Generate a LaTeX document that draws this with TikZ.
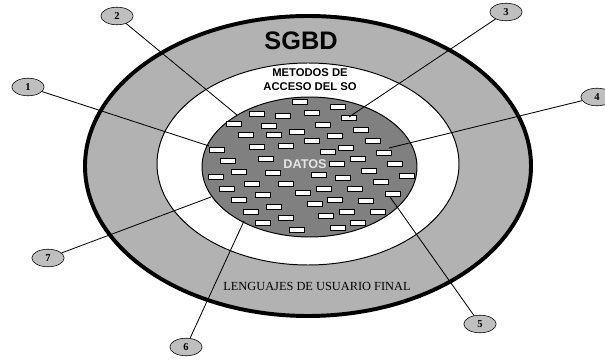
\documentclass[tikz,border=0pt]{standalone}
\usepackage{fontspec}
\setmainfont{Liberation Serif}
\setsansfont{Liberation Sans}
\usetikzlibrary{shapes.geometric}

\begin{document}
\begin{tikzpicture}[x=0.025cm, y=-0.025cm,
    num/.style={ellipse, draw, fill=black!25, minimum width=23pt, minimum height=12.5pt,
      inner sep=0pt, font=\fontsize{7.5}{8}\selectfont\bfseries},
    chip/.style={draw, fill=white, line width=0.6pt},
    lead/.style={line width=0.6pt}]
  \useasboundingbox (0,0) rectangle (605,360);
  % rings
  \draw[line width=2.8pt, fill=black!30] (308,166) ellipse [x radius=223, y radius=150];
  \draw[line width=0.7pt, fill=white] (308,164) ellipse [x radius=151, y radius=101];
  \draw[line width=0.7pt, fill=black!50] (309.5,167) ellipse [x radius=107.5, y radius=70];
  % the records inside the data
  \foreach \x/\y in {300/102, 338/107, 257/114, 283/116, 312/113, 349/118, 234/124, 269/126,
      323/125, 246/135, 274/135, 297/132, 335/136, 361/130, 312/141, 373/141, 217/150,
      257/147, 286/146, 346/148, 328/152, 384/153, 228/161, 266/159, 358/159, 337/164,
      395/164, 216/177, 239/172, 273/173, 319/175, 343/178, 369/171, 407/176, 227/189,
      252/184, 286/184, 303/193, 324/189, 355/189, 381/182, 239/200, 263/195, 315/204,
      335/200, 366/201, 393/194, 251/212, 274/207, 326/216, 347/212, 378/212, 263/223,
      286/218, 358/223, 338/228, 297/230}
    \draw[chip] (\x-7.5,\y-2.7) rectangle (\x+7.5,\y+2.7);
  % ends of the leaders
  \coordinate (e1) at (209,146);
  \coordinate (e2) at (237,115);
  \coordinate (e3) at (349,117);
  \coordinate (e4) at (389,148);
  \coordinate (e5) at (390,197);
  \coordinate (e6) at (244,221);
  \coordinate (e7) at (211,197);
  \node[num] (n1) at (28,87) {1};
  \node[num] (n2) at (117,16) {2};
  \node[num] (n3) at (506,12) {3};
  \node[num] (n4) at (597,97) {4};
  \node[num] (n5) at (480,324) {5};
  \node[num] (n6) at (186,347) {6};
  \node[num] (n7) at (48,258) {7};
  \foreach \i in {1,...,7} \draw[lead] (n\i) -- (e\i);
  % texts
  \node[font=\fontsize{18}{20}\selectfont\sffamily\bfseries] (sgbd) at (301,41) {SGBD};
  \node[font=\fontsize{8}{10}\selectfont\sffamily\bfseries, align=center] (acc) at (310,80)
    {METODOS DE\\ACCESO DEL SO};
  \node[font=\fontsize{9}{10}\selectfont\sffamily\bfseries, text=black!10] (datos) at (305,164) {DATOS};
  \node[font=\fontsize{8.8}{10}\selectfont] (leng) at (317,286) {LENGUAJES DE USUARIO FINAL};
\end{tikzpicture}
\end{document}
